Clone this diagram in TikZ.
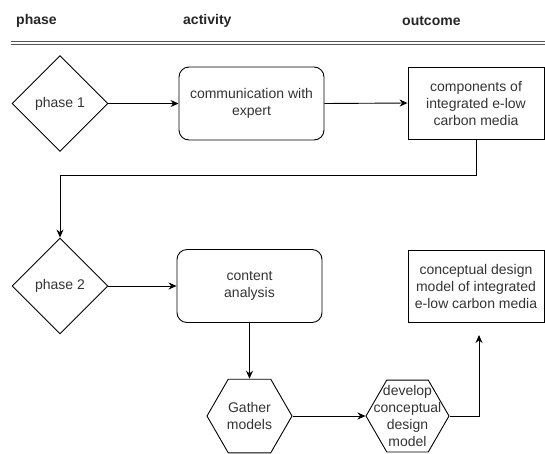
\documentclass[tikz,border=0pt]{standalone}
\usepackage{fontspec}
\setmainfont{Liberation Sans}
\usepackage{tikz}
\usetikzlibrary{arrows.meta,shapes.geometric}
\definecolor{txtC}{HTML}{333333}
\definecolor{ruleC}{HTML}{555555}

\begin{document}
\begin{tikzpicture}[x=1pt,y=-1pt,
  every node/.style={font=\fontsize{14}{17}\selectfont,text=txtC,align=center},
  hdr/.style={anchor=west,inner sep=0pt,text=black!85,font=\fontsize{14}{17}\selectfont\bfseries},
  phasebox/.style={diamond,draw,line width=0.9pt,minimum width=96pt,minimum height=96pt,inner sep=0pt},
  actbox/.style={rectangle,draw,line width=0.9pt,rounded corners=10pt,minimum width=145pt,minimum height=73pt},
  outbox/.style={rectangle,draw,line width=0.9pt,minimum width=136pt,minimum height=72pt},
  hexbox/.style={regular polygon,regular polygon sides=6,draw,line width=0.9pt,minimum size=#1,inner sep=0pt},
  arr/.style={-{Stealth[length=8pt,width=7pt]},line width=0.9pt}]
  \useasboundingbox (0,0) rectangle (545,453);
  % header row
  \node[hdr] (hphase) at (16,21) {phase};
  \node[hdr] (hact) at (183,21) {activity};
  \node[hdr] (hout) at (402,21) {outcome};
  \coordinate (rl) at (11,43);
  \coordinate (rr) at (545,43);
  \draw[ruleC,double,double distance=2.6pt,line width=0.9pt] (rl) -- (rr);
  % phase 1
  \node[phasebox] (p1) at (60,103.5) {phase 1};
  \node[actbox] (act1) at (251.5,103.5) {communication with\\expert};
  \node[outbox] (out1) at (476,103) {components of\\integrated e-low\\carbon media};
  % phase 2
  \node[phasebox] (p2) at (60,286) {phase 2};
  \node[actbox] (act2) at (249.5,286) {content\\analysis};
  \node[outbox] (out2) at (476,286) {conceptual design\\model of integrated\\e-low carbon media};
  \node[hexbox=85pt] (gather) at (249.5,416) {};
  \node (gathertxt) at (gather) {Gather\\models};
  \node[hexbox=83pt] (dev) at (407.5,416) {};
  \node (devtxt) at (dev) {develop\\conceptual\\design\\model};
  \coordinate (cdtip) at (479,335);
  % connectors
  \draw[arr] (p1.east) -- (act1.west);
  \draw[arr] (act1.east) -- (out1.west);
  \draw[arr] (out1.south) -- ++(0,36) -| (p2.north);
  \draw[arr] (p2.east) -- (act2.west);
  \draw[arr] (act2.south) -- (gather.north);
  \draw[arr] (gather.east) -- (dev.west);
  \draw[arr] (dev.east) -| (cdtip);
\end{tikzpicture}
\end{document}
